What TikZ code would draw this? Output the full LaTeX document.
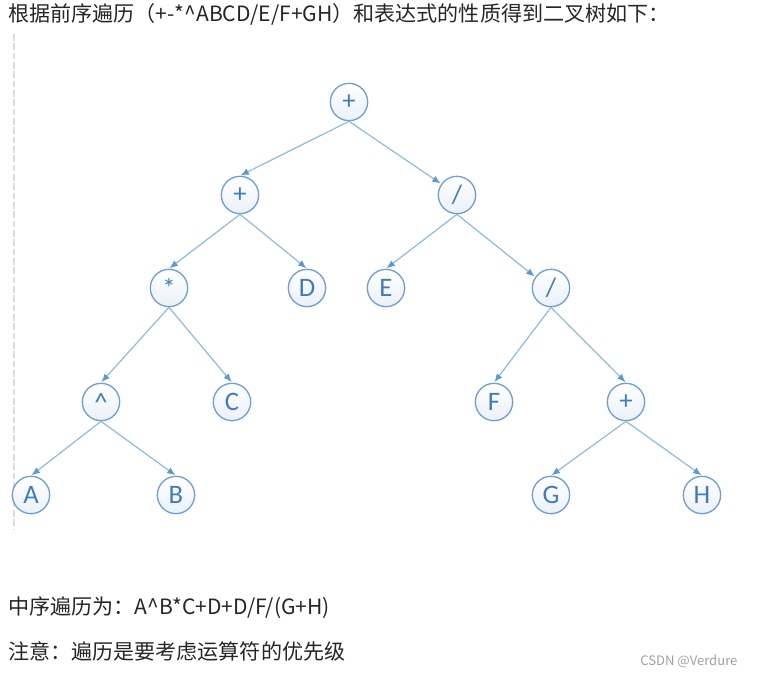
\documentclass[tikz,border=0pt]{standalone}
\usepackage{fontspec}
\setmainfont{Noto Sans CJK SC}
\newfontfamily\nodefont{Carlito}
\usetikzlibrary{arrows.meta, calc}
\definecolor{ringblue} {HTML}{6F9FD3}
\definecolor{textblue} {HTML}{3F7BBE}
\definecolor{edgeblue} {HTML}{8DBBE6}
\definecolor{tipblue}  {HTML}{5B98D4}
\definecolor{fillblue} {HTML}{EBF1F9}
\definecolor{rulegray} {HTML}{DDDDDD}
\definecolor{textgray} {HTML}{262626}
\definecolor{markgray} {HTML}{A0A0A0}
\tikzset{
  >={Latex[length=2.2mm, width=1.8mm, color=tipblue]},
  treenode/.style={
    draw=ringblue, line width=1.0pt, circle, minimum size=28pt,
    inner sep=0pt, top color=white, bottom color=fillblue,
    font=\nodefont\fontsize{20}{20}\selectfont, text=textblue
  },
  treeedge/.style={
    ->, draw=edgeblue, line width=0.9pt, shorten >=0.5pt
  },
  bodytext/.style={
    anchor=west, inner sep=0pt, text=textgray,
    font=\fontsize{15.8}{15.8}\selectfont
  },
  watermark/.style={
    anchor=west, inner sep=0pt, text=markgray,
    font=\fontsize{9.8}{9.8}\selectfont
  },
}
\begin{document}
\begin{tikzpicture}[x=0.75pt, y=-0.75pt]
\useasboundingbox (0,0) rectangle (758,675);

% ---- Text lines ----------------------------------------------------
\node[bodytext] (title) at (8,14) {根据前序遍历（+-*\^{}ABCD/E/F+GH）和表达式的性质得到二叉树如下：};
\node[bodytext] (inorder) at (8,608) {中序遍历为：A\^{}B*C+D+D/F/(G+H)};
\node[bodytext] (note) at (8,651) {注意：遍历是要考虑运算符的优先级};
\node[watermark] (mark) at (640,661) {CSDN @Verdure};

% quote bar on the left
\coordinate (bar_top) at (14,34);
\coordinate (bar_bot) at (14,530);
\draw[rulegray, line width=1.2pt, dash pattern=on 5pt off 2pt] (bar_top) -- (bar_bot);

% ---- Nodes ---------------------------------------------------------
% Level 0
\node[treenode] (root)  at (349,102) {+};
% Level 1
\node[treenode] (plus1) at (240,195) {+};
\node[treenode] (div1)  at (457,195) {/};
% Level 2
\node[treenode] (times) at (169,288) {*};
\node[treenode] (nD)    at (307,288) {D};
\node[treenode] (nE)    at (386,288) {E};
\node[treenode] (div2)  at (551,288) {/};
% Level 3
\node[treenode] (pow)   at (101,402) {\^{}};
\node[treenode] (nC)    at (232,402) {C};
\node[treenode] (nF)    at (494,402) {F};
\node[treenode] (plus2) at (626,402) {+};
% Level 4
\node[treenode] (nA)    at ( 31,495) {A};
\node[treenode] (nB)    at (176,495) {B};
\node[treenode] (nG)    at (551,495) {G};
\node[treenode] (nH)    at (702,495) {H};

% ---- Edges ---------------------------------------------------------
\draw[treeedge] (root.south)  -- (plus1.north);
\draw[treeedge] (root.south)  -- (div1.145);
\draw[treeedge] (plus1.south) -- (times.north);
\draw[treeedge] (plus1.south) -- (nD.north);
\draw[treeedge] (div1.south)  -- (nE.north);
\draw[treeedge] (div1.south)  -- (div2.145);
\draw[treeedge] (times.south) -- (pow.north);
\draw[treeedge] (times.south) -- (nC.north);
\draw[treeedge] (div2.south)  -- (nF.north);
\draw[treeedge] (div2.south)  -- (plus2.north);
\draw[treeedge] (pow.south)   -- (nA.north);
\draw[treeedge] (pow.south)   -- (nB.north);
\draw[treeedge] (plus2.south) -- (nG.north);
\draw[treeedge] (plus2.south) -- (nH.north);

\end{tikzpicture}
\end{document}
